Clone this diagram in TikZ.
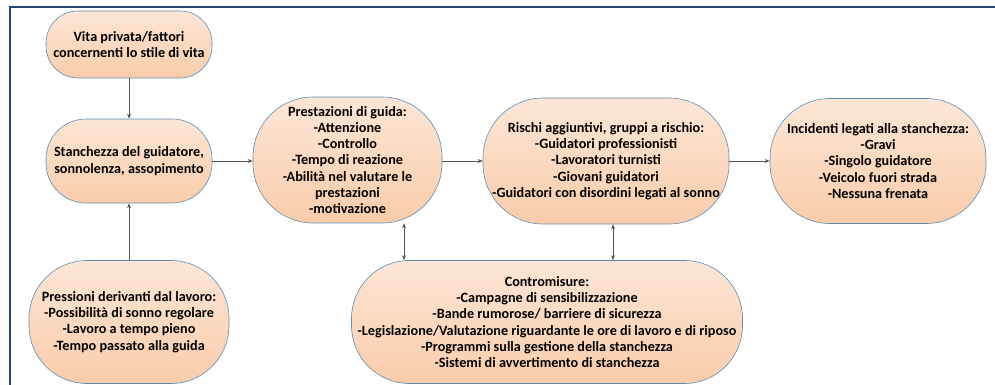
\documentclass[tikz,border=0pt]{standalone}
\usepackage{fontspec}
\setmainfont{Carlito}
\usetikzlibrary{arrows.meta}
\definecolor{framecol}{HTML}{24487A}
\definecolor{boxborder}{HTML}{5B8DB3}
\definecolor{filltop}{HTML}{FDE6D6}
\definecolor{fillbot}{HTML}{F9CCAA}
\definecolor{arrcol}{HTML}{555555}
\begin{document}
\begin{tikzpicture}[x=1pt,y=-1pt,
  box/.style={draw=boxborder, line width=0.6pt, top color=filltop, bottom color=fillbot,
    align=center, inner sep=0pt, font=\fontsize{14.2}{16.3}\selectfont\bfseries},
  conn/.style={draw=arrcol, line width=0.7pt, -{Stealth[length=5pt,width=4pt]}},
  dconn/.style={draw=arrcol, line width=0.7pt, {Stealth[length=5pt,width=4pt]}-{Stealth[length=5pt,width=4pt]}}]
\useasboundingbox (0,0) rectangle (995,385);
\draw[framecol, line width=2.5pt] (995,7) -- (10,7) -- (10,386);
\node[box, minimum width=166pt, minimum height=67pt, rounded corners=32pt] (A) at (129,44.5)
  {Vita privata/fattori\\concernenti lo stile di vita};
\node[box, minimum width=166pt, minimum height=84pt, rounded corners=40pt] (B) at (129,161)
  {Stanchezza del guidatore,\\sonnolenza, assopimento};
\node[box, minimum width=200pt, minimum height=123pt, rounded corners=58pt] (C) at (129,322)
  {Pressioni derivanti dal lavoro:\\-Possibilità di sonno regolare\\-Lavoro a tempo pieno\\-Tempo passato alla guida};
\node[box, minimum width=189pt, minimum height=126pt, rounded corners=60pt] (D) at (347.5,160)
  {Prestazioni di guida:\\-Attenzione\\-Controllo\\-Tempo di reazione\\-Abilità nel valutare le\\prestazioni\\-motivazione};
\node[box, minimum width=246pt, minimum height=126pt, rounded corners=60pt] (E) at (606,161)
  {Rischi aggiuntivi, gruppi a rischio:\\-Guidatori professionisti\\-Lavoratori turnisti\\-Giovani guidatori\\-Guidatori con disordini legati al sonno};
\node[box, minimum width=216pt, minimum height=125pt, rounded corners=60pt] (F) at (878,161)
  {Incidenti legati alla stanchezza:\\-Gravi\\-Singolo guidatore\\-Veicolo fuori strada\\-Nessuna frenata};
\node[box, minimum width=391pt, minimum height=123pt, rounded corners=58pt] (G) at (547,322)
  {Contromisure:\\-Campagne di sensibilizzazione\\-Bande rumorose/ barriere di sicurezza\\-Legislazione/Valutazione riguardante le ore di lavoro e di riposo\\-Programmi sulla gestione della stanchezza\\-Sistemi di avvertimento di stanchezza};
\draw[conn] (A) -- (B);
\draw[conn] (C) -- (B);
\draw[conn] (B.east) -- (D.west |- B.east);
\draw[conn] (D.east |- E.west) -- (E.west);
\draw[conn] (E) -- (F);
\draw[dconn] (D.south -| 404,0) -- (G.north -| 404,0);
\draw[dconn] (E.south -| 613,0) -- (G.north -| 613,0);
\end{tikzpicture}
\end{document}
